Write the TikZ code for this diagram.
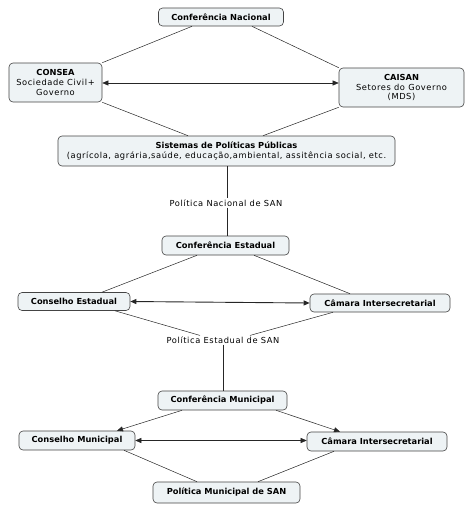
\documentclass[tikz,border=0pt]{standalone}
\usepackage{fontspec}
\setmainfont{DejaVu Sans}[LetterSpace=7, BoldFeatures={LetterSpace=0}]
\usetikzlibrary{arrows.meta}
\definecolor{boxfill}{HTML}{EEF3F5}
\definecolor{boxline}{HTML}{444444}
\tikzset{
  box/.style={draw=boxline, fill=boxfill, rounded corners=4pt, line width=0.6pt,
    inner xsep=3pt, inner ysep=2pt, align=center, font=\fontsize{8.3}{9.6}\selectfont},
  lbl/.style={fill=white, inner sep=1pt, font=\fontsize{8.3}{9.6}\selectfont},
  link/.style={draw=black!85, line width=0.5pt},
  arr/.style={link, -{Triangle[length=6pt,width=5pt]}},
  darr/.style={link, {Triangle[length=6pt,width=5pt]}-{Triangle[length=6pt,width=5pt]}},
}
\begin{document}
\begin{tikzpicture}[x=1pt,y=-1pt]
\useasboundingbox (0,0) rectangle (475,512);
\node[box, minimum width=125pt, minimum height=18pt] (nac) at (221,17) {\textbf{Conferência Nacional}};
\node[box, minimum width=93pt, minimum height=39pt] (consea) at (55.5,82.5) {\textbf{CONSEA}\\Sociedade Civil+\\Governo};
\node[box, minimum width=125pt, minimum height=39pt] (caisan) at (401.5,87.5) {\textbf{CAISAN}\\Setores do Governo\\(MDS)};
\node[box, minimum width=337pt, minimum height=30pt] (sis) at (226.5,151) {\textbf{Sistemas de Políticas Públicas}\\(agrícola, agrária,saúde, educação,ambiental, assitência social, etc.};
\node[lbl] (pn) at (226,203) {Política Nacional de SAN};
\node[box, minimum width=127pt, minimum height=19pt] (cest) at (225.5,245.5) {\textbf{Conferência Estadual}};
\node[box, minimum width=112pt, minimum height=18pt] (conest) at (74,301.5) {\textbf{Conselho Estadual}};
\node[box, minimum width=140pt, minimum height=18pt] (camest) at (380,303) {\textbf{Câmara Intersecretarial}};
\node[lbl] (pe) at (223,340) {Política Estadual de SAN};
\node[box, minimum width=129pt, minimum height=19pt] (cmun) at (222.5,400.5) {\textbf{Conferência Municipal}};
\node[box, minimum width=116pt, minimum height=19pt] (conmun) at (77,440.5) {\textbf{Conselho Municipal}};
\node[box, minimum width=140pt, minimum height=19pt] (cammun) at (377,441.5) {\textbf{Câmara Intersecretarial}};
\node[box, minimum width=147pt, minimum height=21pt] (pm) at (226.5,492.5) {\textbf{Política Municipal de SAN}};

\draw[link] (nac.south -| 192,0) -- (consea.north east);
\draw[link] (nac.south -| 252,0) -- (caisan.north west);
\draw[darr] (consea.east |- 0,83) -- (caisan.west |- 0,83);
\draw[link] (consea.south east) -- (sis.north -| 188,0);
\draw[link] (caisan.south west) -- (sis.north -| 263,0);
\draw[link] (sis.south -| 227,0) -- (pn.north -| 227,0);
\draw[link] (pn.south -| 227,0) -- (cest.north -| 227,0);
\draw[link] (cest.south -| 197,0) -- (conest.north -| 102,0);
\draw[link] (cest.south -| 254,0) -- (camest.north -| 350,0);
\draw[darr, line width=0.9pt] (conest.east) -- (camest.west);
\draw[link] (conest.south -| 115,0) -- (pe.north -| 200,0);
\draw[link] (camest.south -| 333,0) -- (pe.north -| 250,0);
\draw[link] (pe.south -| 223,0) -- (cmun.north -| 223,0);
\draw[arr] (cmun.south -| 182,0) -- (conmun.north -| 117,0);
\draw[arr] (cmun.south -| 276,0) -- (cammun.north -| 340,0);
\draw[darr] (conmun.east) -- (cammun.west |- conmun.east);
\draw[link] (conmun.south -| 124,0) -- (pm.north -| 197,0);
\draw[link] (cammun.south -| 334,0) -- (pm.north -| 258,0);
\end{tikzpicture}
\end{document}
